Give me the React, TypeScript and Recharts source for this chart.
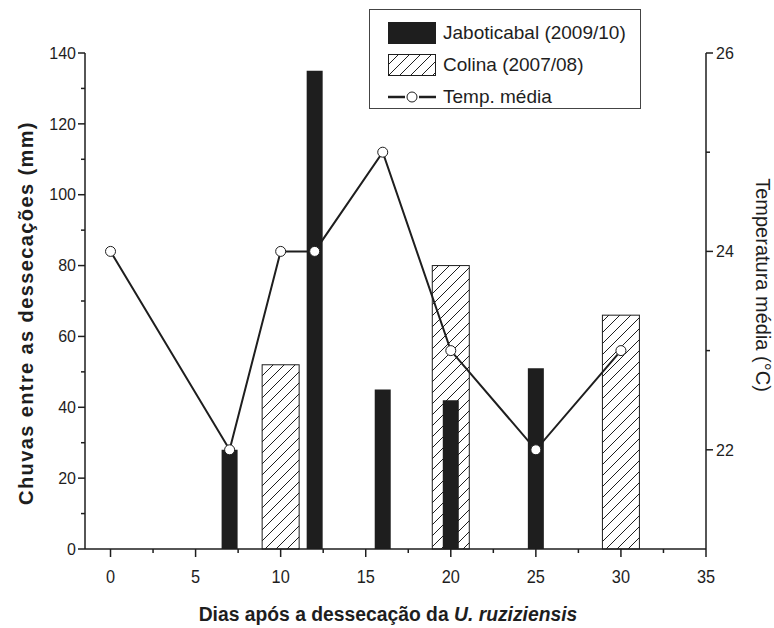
import { Bar, ComposedChart, Line, XAxis, YAxis } from 'recharts';

const DAYS = [0, 7, 10, 12, 16, 20, 25, 30];
const JABOTICABAL = [null, 28, null, 135, 45, 42, 51, null];
const COLINA = [null, null, 52, null, null, 80, null, 66];
const TEMP_MEDIA = [24, 22, 24, 24, 25, 23, 22, 23];

const X_TICKS = [0, 2.5, 5, 7.5, 10, 12.5, 15, 17.5, 20, 22.5, 25, 27.5, 30, 32.5, 35];
const LEFT_TICKS = [0, 10, 20, 30, 40, 50, 60, 70, 80, 90, 100, 110, 120, 130, 140];
const RIGHT_TICKS = [22, 23, 24, 25, 26];

const FONT = '"Liberation Sans", Arial, Helvetica, sans-serif';
const INK = '#1e1e1e';
const COLINA_WIDTH = 37;

const rows = DAYS.map((day, i) => ({
  day,
  jaboticabal: JABOTICABAL[i],
  colina: COLINA[i],
  temp: TEMP_MEDIA[i],
}));

function XTick({ x, y, payload }: any) {
  const v = payload.value;
  const major = v % 5 === 0;
  return (
    <g>
      <line x1={x} x2={x} y1={y} y2={y + (major ? 8 : 4)} stroke={INK} strokeWidth={1.5} />
      {major && (
        <text
          transform={`translate(${x},${y + 34}) scale(0.86,1)`}
          textAnchor="middle"
          fontSize={19}
          fontFamily={FONT}
          fill={INK}
        >
          {v}
        </text>
      )}
    </g>
  );
}

function LeftTick({ x, y, payload }: any) {
  const v = payload.value;
  const major = v % 20 === 0;
  return (
    <g>
      <line x1={x - (major ? 7 : 4)} x2={x} y1={y} y2={y} stroke={INK} strokeWidth={1.5} />
      {major && (
        <text x={x - 9} y={y} dy="0.36em" textAnchor="end" fontSize={16} fontFamily={FONT} fill={INK}>
          {v}
        </text>
      )}
    </g>
  );
}

function RightTick({ x, y, payload }: any) {
  const v = payload.value;
  const major = v % 2 === 0;
  return (
    <g>
      <line x1={x} x2={x + (major ? 7 : 4)} y1={y} y2={y} stroke={INK} strokeWidth={1.5} />
      {major && (
        <text x={x + 10} y={y} dy="0.36em" textAnchor="start" fontSize={16} fontFamily={FONT} fill={INK}>
          {v}
        </text>
      )}
    </g>
  );
}

// widen the hatched bars around the centre Recharts gives them
function ColinaShape(props: any) {
  const { x, y, width, height } = props;
  if (!height || height <= 0) return null;
  const cx = x + width / 2;
  return (
    <rect
      x={cx - COLINA_WIDTH / 2}
      y={y}
      width={COLINA_WIDTH}
      height={height}
      fill="url(#hatch)"
      stroke={INK}
      strokeWidth={1}
    />
  );
}

function HatchSwatch() {
  return (
    <svg width={48} height={22} style={{ display: 'block' }}>
      <defs>
        <pattern id="hatch-legend" width={11} height={11} patternUnits="userSpaceOnUse">
          <path d="M0,11 L11,0 M-3,3 L3,-3 M8,14 L14,8" stroke={INK} strokeWidth={1} />
        </pattern>
      </defs>
      <rect x={0.5} y={0.5} width={47} height={21} fill="url(#hatch-legend)" stroke={INK} strokeWidth={1} />
    </svg>
  );
}

function LegendBox() {
  const row = { display: 'flex', alignItems: 'center', height: 32 } as const;
  const label = { marginLeft: 7, fontSize: 19, color: INK, fontFamily: FONT } as const;
  return (
    <div
      style={{
        position: 'absolute',
        left: 369,
        top: 9,
        width: 272,
        height: 100,
        border: '1.5px solid #444',
        boxSizing: 'border-box',
        padding: '7px 0 0 18px',
      }}
    >
      <div style={row}>
        <div style={{ width: 48, height: 22, background: INK }} />
        <span style={label}>Jaboticabal (2009/10)</span>
      </div>
      <div style={row}>
        <HatchSwatch />
        <span style={label}>Colina (2007/08)</span>
      </div>
      <div style={row}>
        <svg width={48} height={14} style={{ display: 'block' }}>
          <line x1={0} x2={17} y1={7} y2={7} stroke={INK} strokeWidth={2.5} />
          <line x1={31} x2={48} y1={7} y2={7} stroke={INK} strokeWidth={2.5} />
          <circle cx={24} cy={7} r={5} fill="#fff" stroke={INK} strokeWidth={1} />
        </svg>
        <span style={label}>Temp. média</span>
      </div>
    </div>
  );
}

export default function App() {
  return (
    <div style={{ position: 'absolute', left: 0, top: 0, width: 774, height: 628, background: '#fff' }}>
      <ComposedChart
        width={774}
        height={628}
        data={rows}
        margin={{ top: 53, right: 0, bottom: 0, left: 0 }}
      >
        <defs>
          <pattern id="hatch" width={11} height={11} patternUnits="userSpaceOnUse">
            <path d="M0,11 L11,0 M-3,3 L3,-3 M8,14 L14,8" stroke={INK} strokeWidth={1} />
          </pattern>
        </defs>
        <XAxis
          xAxisId="main"
          dataKey="day"
          type="number"
          domain={[-1.5, 35]}
          ticks={X_TICKS}
          interval={0}
          height={79}
          tickSize={0}
          tickMargin={0}
          tickLine={false}
          axisLine={{ stroke: INK, strokeWidth: 1.5 }}
          tick={(p: any) => <XTick {...p} />}
        />
        <XAxis
          xAxisId="col"
          dataKey="day"
          type="number"
          orientation="top"
          height={0}
          domain={[-1.5, 35]}
          hide
        />
        <YAxis
          yAxisId="left"
          domain={[0, 140]}
          ticks={LEFT_TICKS}
          interval={0}
          width={85}
          tickSize={0}
          tickMargin={0}
          tickLine={false}
          axisLine={{ stroke: INK, strokeWidth: 1.5 }}
          tick={(p: any) => <LeftTick {...p} />}
        />
        <YAxis
          yAxisId="right"
          orientation="right"
          domain={[21, 26]}
          ticks={RIGHT_TICKS}
          interval={0}
          width={68}
          tickSize={0}
          tickMargin={0}
          tickLine={false}
          axisLine={{ stroke: INK, strokeWidth: 1.5 }}
          tick={(p: any) => <RightTick {...p} />}
        />
        <Bar
          xAxisId="col"
          yAxisId="left"
          dataKey="colina"
          barSize={28}
          shape={(p: any) => <ColinaShape {...p} />}
          isAnimationActive={false}
        />
        <Bar
          xAxisId="main"
          yAxisId="left"
          dataKey="jaboticabal"
          barSize={16}
          fill={INK}
          isAnimationActive={false}
        />
        <Line
          xAxisId="main"
          yAxisId="right"
          dataKey="temp"
          type="linear"
          stroke={INK}
          strokeWidth={2}
          dot={{ r: 5, fill: '#fff', stroke: INK, strokeWidth: 1 }}
          activeDot={false}
          isAnimationActive={false}
        />
        <text
          transform="translate(26,313) rotate(-90)"
          textAnchor="middle"
          dominantBaseline="central"
          fontSize={20}
          fontWeight="bold"
          letterSpacing={1.4}
          fontFamily={FONT}
          fill={INK}
        >
          Chuvas entre as dessecações (mm)
        </text>
        <text
          transform="translate(763,285) rotate(90)"
          textAnchor="middle"
          dominantBaseline="central"
          fontSize={20}
          fontFamily={FONT}
          fill={INK}
        >
          Temperatura média (°C)
        </text>
        <text
          transform="translate(388,621) scale(0.92,1)"
          textAnchor="middle"
          fontSize={21}
          fontWeight="bold"
          fontFamily={FONT}
          fill={INK}
        >
          Dias após a dessecação da <tspan fontStyle="italic">U. ruziziensis</tspan>
        </text>
      </ComposedChart>
      <LegendBox />
    </div>
  );
}
